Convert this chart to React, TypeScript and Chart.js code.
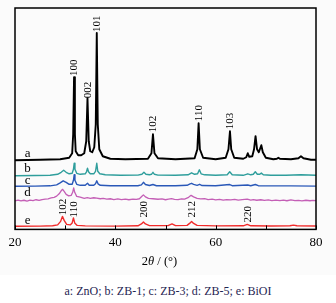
import React, { useEffect, useRef } from "react";
import { Chart, registerables } from "chart.js";

Chart.register(...registerables);

// ---- Axis ----
const xTickValues = [20, 30, 40, 50, 60, 70, 80];
const xTickLabels = ["20", "", "40", "", "60", "", "80"];
const xTitleParts = ["2", "θ", " / (°)"];
const caption = "a: ZnO; b: ZB-1; c: ZB-3; d: ZB-5; e: BiOI";

// ---- Series a: ZnO (offset intensity, arbitrary units) ----
const aX = [20, 25, 29, 30.8, 31.4, 31.6, 31.77, 31.94, 32.1, 32.6, 33.2, 33.8, 34.2, 34.45, 34.7, 35.0, 35.4, 35.8, 36.1, 36.3, 36.5, 36.8, 37.5, 39, 42, 46.5, 47.2, 47.5, 47.8, 48.5, 52, 55.8, 56.35, 56.6, 56.85, 57.5, 60, 62, 62.55, 62.85, 63.1, 63.7, 65.5, 66.1, 66.4, 66.7, 67.3, 67.65, 67.95, 68.25, 68.6, 69.1, 69.4, 70, 71.5, 72.2, 72.5, 72.8, 75, 76.5, 77, 77.5, 79, 80];
const aY = [69, 69.5, 70, 71.5, 76, 95, 152, 95, 78, 74, 74, 76, 88, 131, 88, 78, 77, 82, 105, 196, 105, 80, 73, 70.5, 70, 70.5, 76, 95, 76, 71, 70, 71, 80, 106, 80, 71.5, 70, 71.5, 80, 98, 80, 71.5, 70.5, 72, 76, 72.5, 73, 80, 93, 80, 77, 84, 77, 71.5, 70, 70.5, 71.5, 70.5, 70, 71, 73, 71, 69.5, 69.5];

// ---- Series b: ZB-1 ----
const bX = [20, 24, 27, 28.5, 29.2, 29.7, 30.2, 30.8, 31.4, 31.65, 31.8, 31.95, 32.3, 33, 34, 34.25, 34.45, 34.65, 35, 35.7, 36.05, 36.3, 36.5, 36.9, 38, 41, 44.5, 45.3, 45.7, 46.1, 46.8, 47.2, 47.5, 47.8, 48.5, 52, 54.5, 55.2, 55.8, 56.4, 56.75, 57.1, 57.8, 60, 62.3, 62.8, 63.3, 65.5, 66.4, 67, 67.5, 67.9, 68.3, 68.8, 69.1, 69.5, 71, 74, 77, 80];
const bY = [53.5, 53.8, 54, 55, 57, 59, 57, 55.5, 56, 60, 66, 60, 56, 55, 55.5, 57.5, 61, 57.5, 55.5, 55.5, 58, 66, 58, 55.5, 54.5, 54, 54.2, 55, 57, 55, 54.5, 55, 57, 55, 54.2, 54, 54.5, 56.5, 55, 55.5, 59.5, 55.5, 54.5, 54, 54.5, 57.5, 54.5, 54, 55.5, 54.5, 55, 57.5, 55, 55, 56.2, 54.5, 54, 54, 54.5, 54];

// ---- Series c: ZB-3 ----
const cX = [20, 24, 27, 28.3, 29, 29.6, 30.2, 30.8, 31.4, 31.65, 31.8, 31.95, 32.3, 33, 34, 34.45, 34.8, 35.7, 36.05, 36.3, 36.55, 37, 39, 44.5, 45.2, 45.6, 46, 46.8, 47.5, 48.2, 52, 54.3, 54.9, 55.2, 55.6, 56.3, 56.8, 57.3, 60, 62.8, 63.3, 66.4, 67, 67.9, 68.5, 70, 75, 80];
const cY = [43, 43.2, 43.5, 44.5, 46.5, 48.5, 47, 45, 45, 49, 54.5, 49, 45, 44, 44, 46, 44, 44, 45.5, 48.5, 45.5, 44, 43.5, 43.6, 44.5, 47, 44.8, 43.8, 44.8, 43.6, 43.5, 44, 45.5, 46, 45, 44, 45, 43.8, 43.5, 44.8, 43.6, 44.3, 43.6, 44.8, 43.6, 43.4, 43.4, 43.2];

// ---- Series d: ZB-5 ----
const dX = [20, 20.6, 21.2, 21.8, 22.4, 23, 23.6, 24.2, 24.8, 25.4, 26, 26.6, 27.2, 27.8, 28.3, 28.8, 29.2, 29.5, 29.8, 30.2, 30.7, 31.2, 31.5, 31.7, 31.9, 32.3, 33, 33.8, 34.4, 35, 35.7, 36.3, 37, 37.6, 38.3, 39, 39.7, 40.5, 41.2, 42, 42.7, 43.5, 44.2, 44.8, 45.3, 45.6, 46, 46.6, 47.5, 48.5, 49.3, 50, 50.6, 51.2, 51.8, 52.5, 53.2, 53.8, 54.6, 55.1, 55.6, 56.3, 57, 57.8, 58.5, 59.3, 60, 60.8, 61.5, 62.2, 63, 63.8, 64.5, 65.3, 66.3, 67, 67.5, 68.2, 69, 69.7, 70.5, 71.2, 72, 72.8, 73.5, 74.2, 75, 75.8, 76.5, 77.2, 78, 78.8, 79.4, 80];
const dY = [28.5, 29.3, 28.4, 29.1, 28.3, 29.2, 28.7, 29.6, 28.9, 29.8, 30.2, 30.5, 31.4, 32, 33.2, 35.5, 38.5, 40, 38, 35, 33.5, 34, 37, 41.5, 37, 33, 32.2, 31, 31.8, 31, 31.6, 31.2, 30.6, 31, 30.2, 30.6, 29.8, 30.4, 29.7, 30.3, 29.6, 30.3, 29.9, 30.6, 33, 34.5, 32.5, 31, 30.6, 30.1, 30.5, 29.6, 30.2, 30.8, 30, 29.7, 30.5, 30.2, 32, 34, 32.5, 31, 30.4, 30.8, 29.8, 30.2, 29.5, 30, 29.2, 29.8, 29.4, 30, 29.2, 29.7, 30.2, 29.3, 29.8, 29.1, 29.6, 28.9, 29.4, 28.8, 29.3, 28.7, 29.2, 28.6, 29.4, 28.7, 29, 28.5, 29.1, 28.6, 29, 28.8];

// ---- Series e: BiOI ----
const eX = [20, 25, 27.5, 28.5, 29.1, 29.45, 29.8, 30.3, 31, 31.4, 31.65, 31.9, 32.4, 34, 40, 44.5, 45.2, 45.6, 46, 46.8, 50.5, 51.3, 52, 54.3, 54.8, 55.2, 55.6, 56.3, 60, 65.5, 66.3, 67, 71, 74.8, 75.5, 76.2, 80];
const eY = [3.2, 3.3, 3.6, 4.5, 8, 13, 9, 5, 4.5, 6.5, 11.5, 6.5, 4, 3.5, 3.3, 3.6, 5.5, 7.5, 5.5, 3.8, 3.8, 5.5, 3.8, 4, 6, 8, 6, 4, 3.5, 3.6, 5, 3.6, 3.4, 3.6, 4.3, 3.6, 3.4];

// ---- Peak (hkl) labels ----
const aLabelX = [31.77, 34.45, 36.3, 47.5, 56.6, 62.85];
const aLabelY = [153, 131, 197, 97, 108, 100];
const aLabelText = ["100", "002", "101", "102", "110", "103"];
const eLabelX = [29.45, 31.65, 45.6, 55.2, 66.3];
const eLabelY = [14, 12, 12, 12, 7];
const eLabelText = ["102", "110", "200", "212", "220"];

// ---- Curve letters ----
const curveLetters = ["a", "b", "c", "d", "e"];
const letterX = [22.5, 22.5, 22.5, 22.5, 22.5];
const letterY = [72.5, 57.5, 45.5, 33, 5.5];

const seriesNames = ["ZnO", "ZB-1", "ZB-3", "ZB-5", "BiOI"];
const seriesColors = ["#000000", "#2f9e9c", "#2a58b8", "#c45fb6", "#f02a2a"];
const seriesWidths = [1.9, 1.4, 1.4, 1.3, 1.4];

const SERIF = "'Liberation Serif', 'Times New Roman', serif";

const annotPlugin = {
  id: "xrdAnnot",
  afterDraw(chart: any) {
    const { ctx, chartArea, scales } = chart;
    const x = scales.x;
    const y = scales.y;
    ctx.save();
    // frame
    ctx.strokeStyle = "#000";
    ctx.lineWidth = 1.5;
    ctx.strokeRect(chartArea.left, chartArea.top, chartArea.right - chartArea.left, chartArea.bottom - chartArea.top);
    // inward ticks on bottom axis
    ctx.lineWidth = 1;
    x.ticks.forEach((t: any) => {
      const px = Math.round(x.getPixelForValue(t.value)) + 0.5;
      ctx.beginPath();
      ctx.moveTo(px, chartArea.bottom);
      ctx.lineTo(px, chartArea.bottom - 4);
      ctx.stroke();
    });
    // rotated peak labels
    ctx.fillStyle = "#000";
    ctx.font = `11px ${SERIF}`;
    ctx.textAlign = "left";
    ctx.textBaseline = "middle";
    const drawRot = (xs: number[], ys: number[], txt: string[]) => {
      for (let i = 0; i < xs.length; i++) {
        const px = x.getPixelForValue(xs[i]);
        const py = y.getPixelForValue(ys[i]);
        ctx.save();
        ctx.translate(px, py);
        ctx.rotate(-Math.PI / 2);
        ctx.fillText(txt[i], 0, 0.5);
        ctx.restore();
      }
    };
    drawRot(aLabelX, aLabelY, aLabelText);
    drawRot(eLabelX, eLabelY, eLabelText);
    // curve letters
    ctx.font = `13px ${SERIF}`;
    ctx.textAlign = "center";
    ctx.textBaseline = "alphabetic";
    for (let i = 0; i < curveLetters.length; i++) {
      ctx.fillText(curveLetters[i], x.getPixelForValue(letterX[i]), y.getPixelForValue(letterY[i]));
    }
    // x axis title: 2θ / (°)
    const fonts = [`12.5px ${SERIF}`, `italic 12.5px ${SERIF}`, `12.5px ${SERIF}`];
    let total = 0;
    const widths: number[] = [];
    xTitleParts.forEach((p, i) => {
      ctx.font = fonts[i];
      const w = ctx.measureText(p).width;
      widths.push(w);
      total += w;
    });
    let cx = (chartArea.left + chartArea.right) / 2 - 6 - total / 2;
    const ty = chartArea.bottom + 32;
    ctx.textAlign = "left";
    ctx.textBaseline = "middle";
    xTitleParts.forEach((p, i) => {
      ctx.font = fonts[i];
      ctx.fillText(p, cx, ty);
      cx += widths[i];
    });
    ctx.restore();
  },
};

export default function App() {
  const ref = useRef<HTMLCanvasElement | null>(null);
  useEffect(() => {
    document.body.style.margin = "0";
    if (!ref.current) return;
    const xs = [aX, bX, cX, dX, eX];
    const ys = [aY, bY, cY, dY, eY];
    const chart = new Chart(ref.current, {
      type: "line",
      data: {
        datasets: seriesNames.map((name, i) => ({
          label: name,
          data: xs[i].map((v, j) => ({ x: v, y: ys[i][j] })),
          borderColor: seriesColors[i],
          borderWidth: seriesWidths[i],
          pointRadius: 0,
          tension: 0,
          borderJoinStyle: "round" as const,
          fill: false,
        })),
      },
      options: {
        responsive: false,
        animation: false,
        layout: { padding: { left: 15, right: 20, top: 8, bottom: 20 } },
        plugins: { legend: { display: false }, tooltip: { enabled: false } },
        scales: {
          x: {
            type: "linear",
            min: 20,
            max: 80,
            afterBuildTicks: (s: any) => {
              s.ticks = xTickValues.map((v) => ({ value: v }));
            },
            ticks: {
              autoSkip: false,
              maxRotation: 0,
              padding: 5,
              color: "#000",
              font: { family: SERIF, size: 13 },
              callback: (v: any) => {
                const k = xTickValues.indexOf(Number(v));
                return k >= 0 ? xTickLabels[k] : "";
              },
            },
            grid: { display: false, drawTicks: false },
            border: { display: false },
          },
          y: {
            display: false,
            min: 0,
            max: 221,
          },
        },
      },
      plugins: [annotPlugin],
    });
    return () => chart.destroy();
  }, []);
  return (
    <div style={{ width: 336, height: 303, background: "#ffffff" }}>
      <div style={{ width: 336, height: 275, background: "#fbfbfb" }}>
        <canvas ref={ref} width={336} height={275} style={{ display: "block" }} />
      </div>
      <div
        style={{
          marginTop: 9,
          fontFamily: SERIF,
          fontSize: 12,
          lineHeight: "14px",
          color: "#1f2552",
          textAlign: "center",
          whiteSpace: "nowrap",
        }}
      >
        {caption}
      </div>
    </div>
  );
}
